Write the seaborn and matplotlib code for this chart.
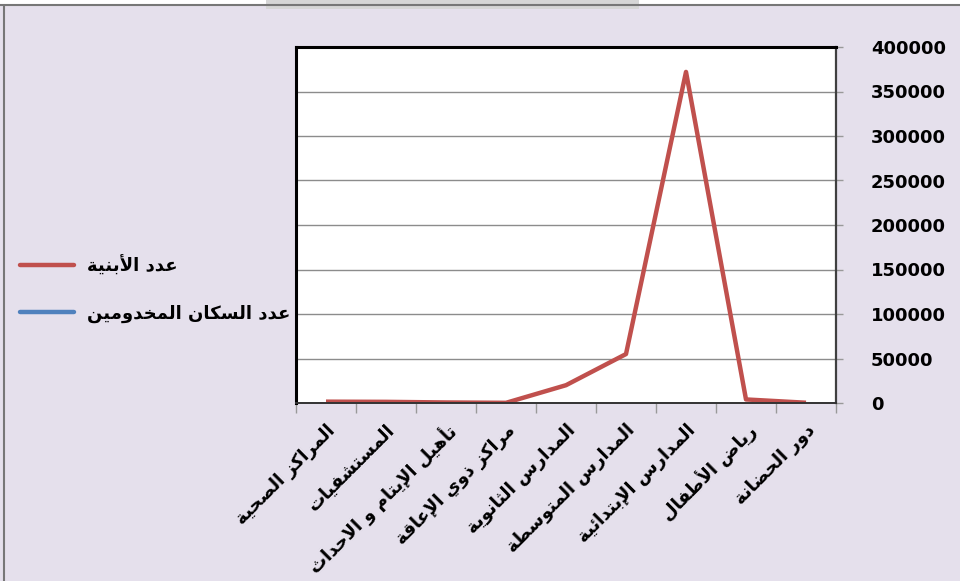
import numpy as np
import pandas as pd
import matplotlib
matplotlib.use("Agg")
import matplotlib.pyplot as plt
import seaborn as sns
from matplotlib.lines import Line2D
from matplotlib.patches import Rectangle

# ---------------- data ----------------
categories = [
    "المراكز الصحية",
    "المستشفيات",
    "تأهيل الإيتام و الاحداث",
    "مراكز ذوي الإعاقة",
    "المدارس الثانوية",
    "المدارس المتوسطة",
    "المدارس الإبتدائية",
    "رياض الأطفال",
    "دور الحضانة",
]
buildings = [1500, 1300, 600, 200, 20000, 55000, 372000, 4000, 300]
served_population = [np.nan] * 9   # series present in legend only (not visible)
series_names = ["عدد الأبنية", "عدد السكان المخدومين"]
y_ticks = [0, 50000, 100000, 150000, 200000, 250000, 300000, 350000, 400000]

# ---------------- simple Arabic shaping for display ----------------
FORMS = {
    'ء': (0xFE80,),
    'آ': (0xFE81, 0xFE82), 'أ': (0xFE83, 0xFE84), 'ؤ': (0xFE85, 0xFE86),
    'إ': (0xFE87, 0xFE88), 'ئ': (0xFE89, 0xFE8A, 0xFE8B, 0xFE8C),
    'ا': (0xFE8D, 0xFE8E), 'ب': (0xFE8F, 0xFE90, 0xFE91, 0xFE92),
    'ة': (0xFE93, 0xFE94), 'ت': (0xFE95, 0xFE96, 0xFE97, 0xFE98),
    'ث': (0xFE99, 0xFE9A, 0xFE9B, 0xFE9C), 'ج': (0xFE9D, 0xFE9E, 0xFE9F, 0xFEA0),
    'ح': (0xFEA1, 0xFEA2, 0xFEA3, 0xFEA4), 'خ': (0xFEA5, 0xFEA6, 0xFEA7, 0xFEA8),
    'د': (0xFEA9, 0xFEAA), 'ذ': (0xFEAB, 0xFEAC), 'ر': (0xFEAD, 0xFEAE),
    'ز': (0xFEAF, 0xFEB0), 'س': (0xFEB1, 0xFEB2, 0xFEB3, 0xFEB4),
    'ش': (0xFEB5, 0xFEB6, 0xFEB7, 0xFEB8), 'ص': (0xFEB9, 0xFEBA, 0xFEBB, 0xFEBC),
    'ض': (0xFEBD, 0xFEBE, 0xFEBF, 0xFEC0), 'ط': (0xFEC1, 0xFEC2, 0xFEC3, 0xFEC4),
    'ظ': (0xFEC5, 0xFEC6, 0xFEC7, 0xFEC8), 'ع': (0xFEC9, 0xFECA, 0xFECB, 0xFECC),
    'غ': (0xFECD, 0xFECE, 0xFECF, 0xFED0), 'ف': (0xFED1, 0xFED2, 0xFED3, 0xFED4),
    'ق': (0xFED5, 0xFED6, 0xFED7, 0xFED8), 'ك': (0xFED9, 0xFEDA, 0xFEDB, 0xFEDC),
    'ل': (0xFEDD, 0xFEDE, 0xFEDF, 0xFEE0), 'م': (0xFEE1, 0xFEE2, 0xFEE3, 0xFEE4),
    'ن': (0xFEE5, 0xFEE6, 0xFEE7, 0xFEE8), 'ه': (0xFEE9, 0xFEEA, 0xFEEB, 0xFEEC),
    'و': (0xFEED, 0xFEEE), 'ى': (0xFEEF, 0xFEF0),
    'ي': (0xFEF1, 0xFEF2, 0xFEF3, 0xFEF4),
}
LAM_ALEF = {'آ': (0xFEF5, 0xFEF6), 'أ': (0xFEF7, 0xFEF8),
            'إ': (0xFEF9, 0xFEFA), 'ا': (0xFEFB, 0xFEFC)}


def _shape_line(text):
    chars = list(text)
    n = len(chars)
    out = []
    i = 0
    jf = lambda c: c in FORMS and len(FORMS[c]) == 4
    while i < n:
        c = chars[i]
        if c not in FORMS:
            out.append(c)
            i += 1
            continue
        prev_j = i > 0 and jf(chars[i - 1])
        if c == 'ل' and i + 1 < n and chars[i + 1] in LAM_ALEF:
            iso, fin = LAM_ALEF[chars[i + 1]]
            out.append(chr(fin if prev_j else iso))
            i += 2
            continue
        f = FORMS[c]
        nxt_j = (i + 1 < n) and chars[i + 1] in FORMS and len(f) == 4
        if len(f) == 1:
            cp = f[0]
        elif prev_j and nxt_j:
            cp = f[3]
        elif prev_j:
            cp = f[1]
        elif nxt_j:
            cp = f[2]
        else:
            cp = f[0]
        out.append(chr(cp))
        i += 1
    return ''.join(reversed(out))


def ar(text):
    return '\n'.join(_shape_line(l) for l in text.split('\n'))


# ---------------- style ----------------
BG = "#E5E0EC"
RED = "#C0504D"
BLUE = "#4F81BD"
sns.set_theme(style="white")
plt.rcParams['font.family'] = ['DejaVu Sans']

fig = plt.figure(figsize=(9.6, 5.81), dpi=100, facecolor=BG)
ax = fig.add_axes([296 / 960, 1 - 403 / 581, 540 / 960, 356 / 581])
ax.set_facecolor("white")

df = pd.DataFrame({"x": np.arange(len(categories)), "y": buildings})
sns.lineplot(data=df, x="x", y="y", ax=ax, color=RED, linewidth=3.2,
             sort=False, legend=False, solid_capstyle="butt")

ax.set_xlim(-0.5, len(categories) - 0.5)
ax.set_ylim(0, 400000)
ax.set_xlabel("")
ax.set_ylabel("")

# y axis on the right
ax.yaxis.tick_right()
ax.set_yticks(y_ticks)
ax.set_yticklabels([str(v) for v in y_ticks], fontsize=13, fontweight="bold",
                   color="black")
ax.tick_params(axis="y", which="major", right=True, left=False, length=5,
               width=1, color="#999999", pad=20)
ax.grid(axis="y", color="#8C8C8C", linewidth=1)
ax.grid(axis="x", visible=False)

# x axis: tick marks at boundaries, labels at centres
ax.set_xticks(np.arange(-0.5, len(categories), 1.0))
ax.set_xticklabels([])
ax.tick_params(axis="x", which="major", bottom=True, length=7, width=1,
               color="#999999")
ax.set_xticks(np.arange(len(categories)), minor=True)
ax.set_xticklabels([ar(c) for c in categories], minor=True, rotation=45,
                   ha="right", va="top", rotation_mode="anchor",
                   fontsize=13, fontweight="bold", color="black")
ax.tick_params(axis="x", which="minor", bottom=True, length=0, pad=13)

for s in ["left", "top"]:
    ax.spines[s].set_color("black")
    ax.spines[s].set_linewidth(2.2)
ax.spines["right"].set_color("#404040")
ax.spines["right"].set_linewidth(1.6)
ax.spines["bottom"].set_color("#333333")
ax.spines["bottom"].set_linewidth(1.4)

# legend
handles = [Line2D([], [], color=RED, linewidth=3.2, solid_capstyle="round"),
           Line2D([], [], color=BLUE, linewidth=3.2, solid_capstyle="round")]
leg = fig.legend(handles, [ar(n) for n in series_names], loc="center left",
                 bbox_to_anchor=(20 / 960, 1 - 289 / 581), frameon=False,
                 prop={"weight": "bold", "size": 13}, handlelength=3.0,
                 handletextpad=0.7, labelspacing=1.6, borderpad=0, borderaxespad=0)
for t in leg.get_texts():
    t.set_color("black")

# outer window frame
fig.patches.append(Rectangle((0, 1 - 4 / 581), 1, 4 / 581, transform=fig.transFigure,
                             facecolor="white", edgecolor="none", zorder=-1))
fig.patches.append(Rectangle((266 / 960, 1 - 9 / 581), 373 / 960, 9 / 581,
                             transform=fig.transFigure, facecolor="#D6D6D6",
                             edgecolor="none", zorder=0))
fig.lines.append(Line2D([0, 1], [1 - 4.5 / 581, 1 - 4.5 / 581], transform=fig.transFigure,
                        color="#777777", linewidth=1.5))
fig.lines.append(Line2D([3.5 / 960, 3.5 / 960], [0, 1 - 4.5 / 581], transform=fig.transFigure,
                        color="#777777", linewidth=1.5))

fig.savefig("out.png", dpi=100, facecolor=BG)
